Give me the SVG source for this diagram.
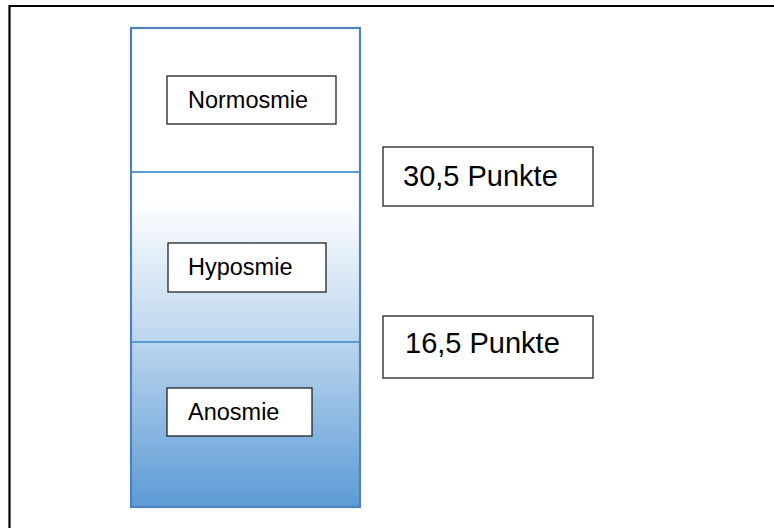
<svg xmlns="http://www.w3.org/2000/svg" width="774" height="528" viewBox="0 0 774 528">
  <defs>
    <linearGradient id="scaleFill" x1="0" y1="172" x2="0" y2="507" gradientUnits="userSpaceOnUse">
      <stop offset="0" stop-color="#ffffff"/>
      <stop offset="0.08" stop-color="#ffffff"/>
      <stop offset="0.5" stop-color="#bcd6ee"/>
      <stop offset="1" stop-color="#5c9bd6"/>
    </linearGradient>
    <style>
      .label { fill: #ffffff; stroke: #222222; stroke-width: 1.3; }
      .txt { font-family: "Liberation Sans", Arial, sans-serif; fill: #000000; }
      .small { font-size: 23.5px; }
      .big { font-size: 29px; }
      .divider { stroke: #5b9bd5; stroke-width: 2; }
    </style>
  </defs>

  <rect width="774" height="528" fill="#ffffff"/>

  <!-- outer frame -->
  <path d="M9.5,528 V6 H774" fill="none" stroke="#000000" stroke-width="2.2"/>

  <!-- scale column -->
  <g id="scale">
    <rect x="131" y="28" width="229" height="479" fill="#ffffff"/>
    <rect x="131" y="172" width="229" height="335" fill="url(#scaleFill)"/>
    <line class="divider" x1="131" y1="172" x2="360" y2="172"/>
    <line class="divider" x1="131" y1="342" x2="360" y2="342"/>
    <rect x="131" y="28" width="229" height="479" fill="none" stroke="#4f81bd" stroke-width="2.2"/>
  </g>

  <g id="normosmie">
    <rect class="label" x="167" y="76" width="169" height="48"/>
    <text class="txt small" x="188" y="108">Normosmie</text>
  </g>

  <g id="hyposmie">
    <rect class="label" x="168" y="243" width="158" height="49"/>
    <text class="txt small" x="188" y="275">Hyposmie</text>
  </g>

  <g id="anosmie">
    <rect class="label" x="167" y="388" width="145" height="48"/>
    <text class="txt small" x="188" y="420">Anosmie</text>
  </g>

  <g id="threshold-30">
    <rect class="label" x="383" y="147" width="210" height="59"/>
    <text class="txt big" x="403" y="186">30,5 Punkte</text>
  </g>

  <g id="threshold-16">
    <rect class="label" x="383" y="316" width="210" height="62"/>
    <text class="txt big" x="405" y="353">16,5 Punkte</text>
  </g>

  <g id="connectors"/>
</svg>
